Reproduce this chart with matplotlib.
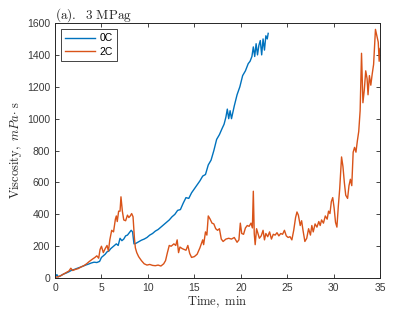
import matplotlib
matplotlib.use("Agg")
from matplotlib import pyplot as plt

plt.rcParams['font.family'] = ['Liberation Sans', 'DejaVu Sans']
plt.rcParams['mathtext.fontset'] = 'cm'

# 0C series (time in min, viscosity in mPa s)
t_0c = [0.0, 0.2, 0.35, 0.6, 0.9, 1.2, 1.5, 1.8, 2.1, 2.4, 2.7, 3.0, 3.3, 3.6, 3.9,
        4.2, 4.5, 4.8, 5.0, 5.2, 5.4, 5.6, 5.8, 6.0, 6.2, 6.4, 6.6, 6.8, 7.0, 7.2,
        7.4, 7.6, 7.8, 8.0, 8.2, 8.35, 8.5, 8.7, 9.0, 9.3, 9.6, 9.9, 10.2, 10.5,
        10.8, 11.1, 11.4, 11.7, 12.0, 12.3, 12.6, 12.9, 13.2, 13.5, 13.8, 14.1,
        14.4, 14.7, 15.0, 15.3, 15.6, 15.9, 16.2, 16.5, 16.8, 17.1, 17.4, 17.7,
        18.0, 18.2, 18.4, 18.55, 18.7, 18.85, 19.0, 19.3, 19.6, 19.9, 20.2, 20.5,
        20.8, 21.0, 21.2, 21.35, 21.5, 21.65, 21.8, 21.95, 22.1, 22.25, 22.4,
        22.55, 22.7, 22.85, 22.95]
v_0c = [5, 22, 8, 15, 25, 32, 40, 50, 55, 62, 68, 75, 82, 88, 95,
        100, 98, 105, 130, 140, 150, 165, 170, 185, 195, 205, 215, 205, 250, 235,
        245, 265, 270, 285, 300, 290, 215, 218, 228, 238, 245, 255, 270, 280,
        295, 305, 320, 335, 350, 365, 385, 400, 425, 430, 470, 505, 500, 535,
        560, 585, 610, 640, 650, 710, 740, 800, 870, 900, 940, 965, 1010, 1060,
        1000, 1050, 1000, 1080, 1150, 1200, 1270, 1300, 1345, 1360, 1390, 1450,
        1390, 1470, 1400, 1460, 1490, 1400, 1500, 1430, 1520, 1500, 1535]

# 2C series
t_2c = [0.0, 0.3, 0.6, 0.9, 1.2, 1.5, 1.7, 1.9, 2.2, 2.5, 2.8, 3.1, 3.4, 3.7, 4.0,
        4.3, 4.5, 4.7, 4.85, 5.0, 5.2, 5.4, 5.6, 5.75, 5.9, 6.1, 6.3, 6.5, 6.6,
        6.7, 6.85, 7.0, 7.1, 7.25, 7.4, 7.6, 7.8, 7.95, 8.1, 8.25, 8.4, 8.55, 8.65,
        8.8, 9.0, 9.3, 9.6, 9.9, 10.2, 10.5, 10.8, 11.1, 11.4, 11.7, 11.9, 12.1,
        12.3, 12.5, 12.8, 13.0, 13.15, 13.3, 13.45, 13.7, 13.9, 14.1, 14.3, 14.5,
        14.7, 15.0, 15.3, 15.6, 15.9, 16.0, 16.2, 16.35, 16.5, 16.7, 16.9, 17.1,
        17.3, 17.5, 17.7, 17.9, 18.1, 18.4, 18.7, 19.0, 19.3, 19.6, 19.8, 19.95,
        20.1, 20.3, 20.5, 20.7, 20.9, 21.1, 21.25, 21.35, 21.45, 21.55, 21.7,
        21.85, 22.0, 22.2, 22.4, 22.55, 22.7, 22.9, 23.1, 23.3, 23.5, 23.7, 23.9,
        24.1, 24.3, 24.5, 24.7, 24.9, 25.1, 25.3, 25.5, 25.7, 25.9, 26.05, 26.2,
        26.4, 26.55, 26.7, 26.9, 27.1, 27.3, 27.5, 27.65, 27.8, 28.0, 28.2, 28.4,
        28.55, 28.7, 28.9, 29.1, 29.3, 29.45, 29.6, 29.75, 29.9, 30.05, 30.2,
        30.35, 30.5, 30.65, 30.85, 31.0, 31.15, 31.3, 31.5, 31.65, 31.8, 31.95,
        32.1, 32.25, 32.4, 32.55, 32.7, 32.85, 33.0, 33.15, 33.3, 33.45, 33.6,
        33.7, 33.85, 34.0, 34.15, 34.3, 34.5, 34.65, 34.8, 34.9, 35.0]
v_2c = [5, 8, 15, 25, 35, 45, 62, 48, 55, 60, 70, 78, 90, 105, 118,
        130, 140, 125, 180, 200, 160, 185, 205, 170, 240, 300, 290, 370, 390,
        355, 420, 420, 510, 420, 365, 360, 395, 380, 390, 405, 385, 250, 190,
        160, 135, 110, 90, 82, 86, 80, 78, 82, 76, 90, 110, 160,
        205, 200, 215, 205, 240, 160, 195, 185, 180, 175, 205, 155,
        130, 135, 150, 190, 240, 210, 290, 270, 390, 370, 345, 340,
        310, 300, 310, 245, 230, 245, 250, 245, 255, 225, 240, 345,
        280, 275, 315, 330, 325, 345, 315, 545, 280, 210, 310,
        280, 250, 265, 300, 240, 280, 260, 290, 245, 275, 270, 285,
        265, 280, 275, 300, 265, 255, 260, 240, 300, 380, 415, 395,
        330, 360, 300, 230, 250, 310, 270, 330, 290, 340, 320, 355,
        330, 365, 345, 390, 370, 420, 405, 480, 505, 440, 350,
        320, 450, 560, 760, 700, 600, 520, 500, 580, 620, 580,
        790, 820, 790, 860, 920, 1050, 1410, 1100, 1180, 1300, 1250,
        1150, 1270, 1210, 1280, 1340, 1560, 1520, 1480, 1360, 1440]

series_labels = ["0C", "2C"]

fig = plt.figure(figsize=(4.2, 3.15), dpi=100)
ax = fig.add_axes([0.131, 0.117, 0.774, 0.81])

ax.plot(t_0c, v_0c, color='#0072BD', lw=1.0, label=series_labels[0])
ax.plot(t_2c, v_2c, color='#D95319', lw=1.0, label=series_labels[1])

ax.set_xlim(0, 35)
ax.set_ylim(0, 1600)
ax.set_xticks(range(0, 36, 5))
ax.set_yticks(range(0, 1601, 200))
ax.tick_params(direction='in', top=True, right=True, labelsize=7.5,
               length=3, width=0.6, colors='#262626', pad=3.5)
ax.tick_params(labelcolor='#3a3a3a')
for s in ax.spines.values():
    s.set_linewidth(0.7)
    s.set_color('#262626')

ax.set_xlabel(r"$\mathrm{Time,\ min}$", fontsize=9, labelpad=1, color='#262626')
ax.set_ylabel(r"$\mathrm{Viscosity,}\ mPa{\cdot}\ \mathrm{s}$", fontsize=9,
              labelpad=2, color='#262626')
ax.set_title(r"$\mathrm{(a).\ \ 3\ MPag}$", loc='left', fontsize=9.5, pad=3,
             color='#262626')

leg = ax.legend(loc='upper left', fontsize=7.5, fancybox=False,
                edgecolor='#262626', framealpha=1, handlelength=2.8,
                borderaxespad=0.6, handletextpad=0.5, borderpad=0.4,
                labelspacing=0.35)
leg.get_frame().set_linewidth(0.6)

fig.savefig("out.png", dpi=100)
